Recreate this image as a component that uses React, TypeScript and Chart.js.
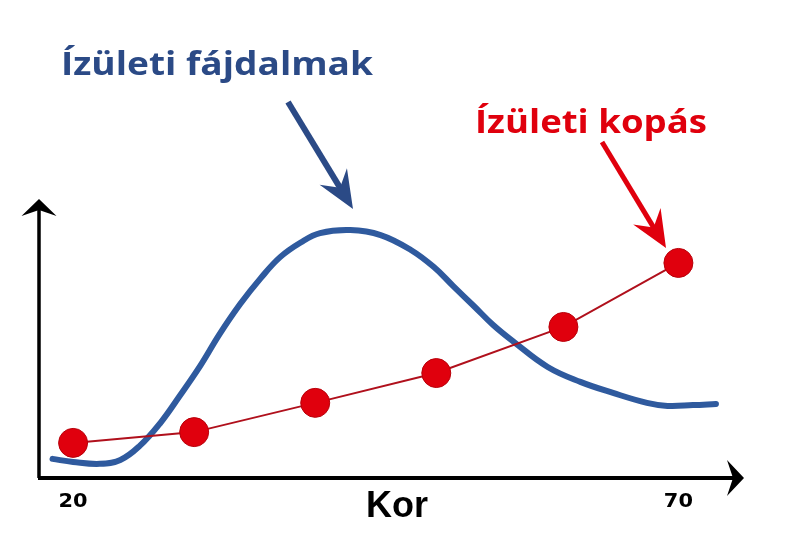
import React, { useEffect, useRef } from "react";
import { Chart, registerables } from "chart.js";

Chart.register(...registerables);

// Age (years) on x, relative level on y (0–100)
const painAges = [18.3, 20, 22.2, 23.9, 25.5, 27.2, 28.8, 30.5, 32.1, 33.8, 35.5, 37.1, 38.8, 40.4, 42.9, 45.4, 47.9, 49.8, 51.4, 53.1, 54.7, 56.4, 59.2, 61.9, 64.6, 67.4, 69.1, 71.2, 73.1];
const painValues = [6.2, 5.1, 4.4, 5.8, 10.9, 19.2, 29.0, 39.9, 51.4, 62.3, 71.7, 79.3, 84.6, 88.0, 89.1, 87.3, 81.9, 75.7, 68.8, 61.6, 54.7, 48.6, 39.5, 34.1, 30.1, 26.5, 25.4, 25.7, 26.1];
const wearAges = [20, 30, 40, 50, 60.5, 70];
const wearValues = [12.0, 15.9, 26.5, 37.3, 54.0, 77.2];
const tickValues = [20, 70];
const tickLabels = ["20", "70"];
const axisTitle = "Kor";
const painLabel = "Ízületi fájdalmak";
const wearLabel = "Ízületi kopás";

const BLUE_LINE = "#2f5a9e";
const BLUE_TEXT = "#2b4a86";
const RED = "#e0000d";

function drawArrow(
  ctx: CanvasRenderingContext2D,
  x1: number, y1: number, x2: number, y2: number,
  width: number, headLen: number, halfW: number, notch: number, color: string
) {
  const dx = x2 - x1, dy = y2 - y1;
  const len = Math.sqrt(dx * dx + dy * dy);
  const ux = dx / len, uy = dy / len;
  const nx = -uy, ny = ux;
  const bx = x2 - ux * headLen, by = y2 - uy * headLen;
  const mx = x2 - ux * (headLen - notch), my = y2 - uy * (headLen - notch);
  ctx.save();
  ctx.strokeStyle = color;
  ctx.fillStyle = color;
  ctx.lineWidth = width;
  ctx.lineCap = "butt";
  ctx.beginPath();
  ctx.moveTo(x1, y1);
  ctx.lineTo(mx + ux * 2, my + uy * 2);
  ctx.stroke();
  ctx.beginPath();
  ctx.moveTo(x2, y2);
  ctx.lineTo(bx + nx * halfW, by + ny * halfW);
  ctx.lineTo(mx, my);
  ctx.lineTo(bx - nx * halfW, by - ny * halfW);
  ctx.closePath();
  ctx.fill();
  ctx.restore();
}

function drawFitText(ctx: CanvasRenderingContext2D, text: string, x: number, y: number, targetW: number) {
  const w = ctx.measureText(text).width;
  ctx.save();
  ctx.translate(x, y);
  ctx.scale(targetW / w, 1);
  ctx.fillText(text, 0, 0);
  ctx.restore();
}

const decorPlugin = {
  id: "decor",
  beforeDatasetsDraw(chart: any) {
    const ctx = chart.ctx as CanvasRenderingContext2D;
    const { left, right, top, bottom } = chart.chartArea;
    drawArrow(ctx, left + 1, bottom + 2, left + 1, top - 1, 3.5, 17, 17.5, 6, "#000");
    drawArrow(ctx, left, bottom + 2, right - 1, bottom + 2, 4, 17, 18, 6, "#000");
  },
  afterDatasetsDraw(chart: any) {
    const ctx = chart.ctx as CanvasRenderingContext2D;
    const xs = chart.scales.x;
    const { bottom } = chart.chartArea;
    ctx.save();
    ctx.fillStyle = "#000";
    ctx.textAlign = "center";
    ctx.textBaseline = "alphabetic";
    ctx.font = "bold 19px 'DejaVu Sans', sans-serif";
    tickValues.forEach((v, i) => {
      const x = xs.getPixelForValue(v);
      ctx.save();
      ctx.translate(x, bottom + 31);
      ctx.scale(1.1, 1);
      ctx.fillText(tickLabels[i], 0, 0);
      ctx.restore();
    });
    ctx.font = "bold 36px 'Liberation Sans', Arial, sans-serif";
    ctx.fillText(axisTitle, 397, bottom + 41);

    ctx.textAlign = "left";
    ctx.font = "bold 32px 'Open Sans', sans-serif";
    ctx.fillStyle = BLUE_TEXT;
    drawFitText(ctx, painLabel, 61, 75, 312);
    ctx.fillStyle = RED;
    drawFitText(ctx, wearLabel, 475, 133, 232);
    ctx.restore();

    drawArrow(ctx, 288, 102, 353, 209, 6, 38, 16, 13, BLUE_TEXT);
    drawArrow(ctx, 602, 142, 666, 248, 5, 37, 16, 13, RED);
  },
};

export default function App() {
  const ref = useRef<HTMLCanvasElement | null>(null);
  useEffect(() => {
    if (!ref.current) return;
    const chart = new Chart(ref.current, {
      type: "scatter",
      data: {
        datasets: [
          {
            label: painLabel,
            data: painAges.map((x, i) => ({ x, y: painValues[i] })),
            showLine: true,
            borderColor: BLUE_LINE,
            borderWidth: 6,
            pointRadius: 0,
            tension: 0.4,
            borderCapStyle: "round",
            borderJoinStyle: "round",
            clip: false,
            order: 2,
          } as any,
          {
            label: wearLabel,
            data: wearAges.map((x, i) => ({ x, y: wearValues[i] })),
            showLine: true,
            borderColor: "#b0101c",
            borderWidth: 2,
            pointRadius: 14.5,
            pointBackgroundColor: RED,
            pointBorderColor: "#b8000a",
            pointBorderWidth: 1,
            tension: 0,
            clip: false,
            order: 1,
          } as any,
        ],
      },
      options: {
        animation: false,
        responsive: false,
        maintainAspectRatio: false,
        layout: { padding: { left: 38, right: 55, top: 200, bottom: 78 } },
        plugins: { legend: { display: false }, tooltip: { enabled: false } },
        scales: {
          x: { type: "linear", min: 17.1, max: 75.5, display: false },
          y: { type: "linear", min: 0, max: 100, display: false },
        },
      },
      plugins: [decorPlugin],
    });
    return () => chart.destroy();
  }, []);
  return (
    <div style={{ position: "fixed", left: 0, top: 0, width: 800, height: 554, background: "#fff" }}>
      <canvas ref={ref} width={800} height={554} style={{ width: 800, height: 554, display: "block" }} />
    </div>
  );
}
